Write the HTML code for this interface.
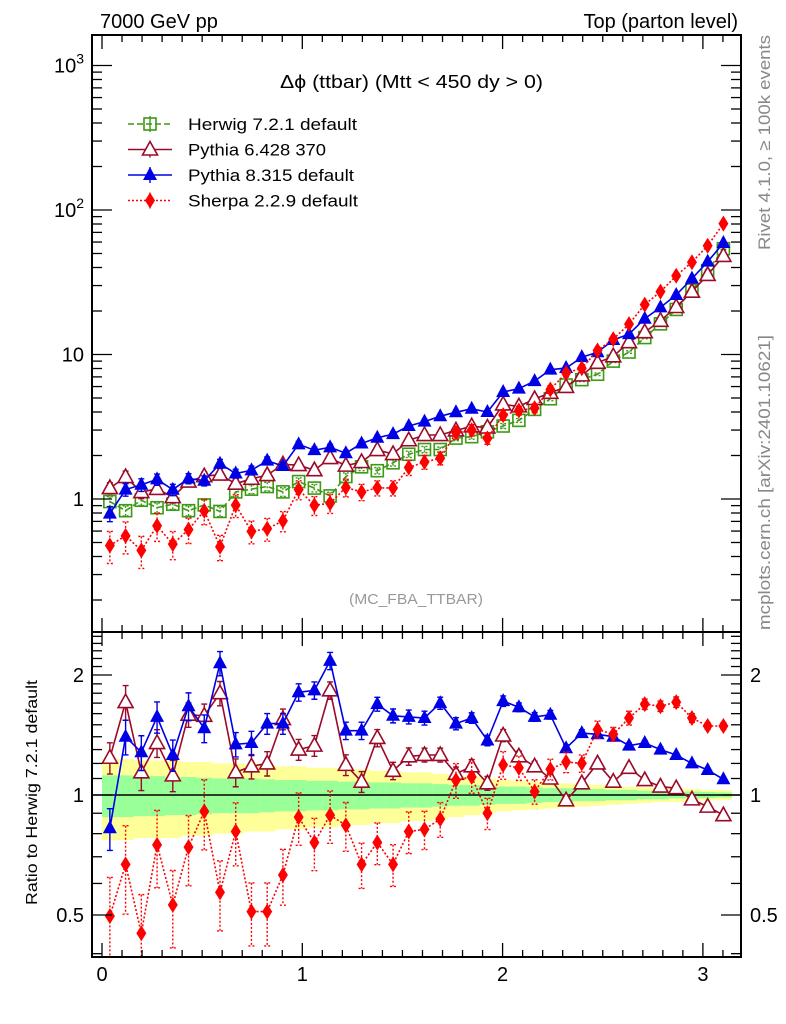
<!DOCTYPE html>
<html><head><meta charset="utf-8">
<style>
html,body{margin:0;padding:0;background:#fff;}
svg{display:block;font-family:"Liberation Sans",sans-serif;}
</style></head>
<body>
<svg id="chart" width="786" height="1024" viewBox="0 0 786 1024" xmlns="http://www.w3.org/2000/svg">
<text x="100" y="28" font-size="20">7000 GeV pp</text>
<text x="738" y="28" font-size="20" text-anchor="end">Top (parton level)</text>
<text x="280" y="88" font-size="18" textLength="263" lengthAdjust="spacingAndGlyphs">Δϕ (ttbar) (Mtt &lt; 450 dy &gt; 0)</text>
<text x="349" y="604" font-size="15" fill="#999" textLength="134" lengthAdjust="spacingAndGlyphs">(MC_FBA_TTBAR)</text>
<text transform="translate(770,250) rotate(-90)" font-size="17" fill="#888" textLength="215" lengthAdjust="spacingAndGlyphs">Rivet 4.1.0, ≥ 100k events</text>
<text transform="translate(770,630) rotate(-90)" font-size="17" fill="#888" textLength="295" lengthAdjust="spacingAndGlyphs">mcplots.cern.ch [arXiv:2401.10621]</text>
<text transform="translate(37,905) rotate(-90)" font-size="16" textLength="225" lengthAdjust="spacingAndGlyphs">Ratio to Herwig 7.2.1 default</text>
<g id="bands"></g>
<g id="marks"></g>
<g id="axes"></g>
<g id="legend"></g>
</svg>
<script>
const binCount = 40;
const herwig = [0.96,0.83,0.98,0.87,0.92,0.83,0.91,0.82,1.12,1.17,1.22,1.12,1.32,1.19,1.05,1.43,1.67,1.57,1.78,2.04,2.2,2.2,2.64,2.7,2.92,3.2,3.5,4.17,4.94,6.15,6.7,7.3,9.0,10.4,13.1,16.3,20.5,27.9,38,54];
const pythia6Ratio = [1.24,1.71,1.14,1.35,1.12,1.59,1.58,1.80,1.14,1.18,1.20,1.55,1.30,1.33,1.83,1.19,1.08,1.39,1.15,1.25,1.26,1.26,1.13,1.18,1.07,1.41,1.25,1.18,1.10,0.97,1.07,1.20,1.08,1.17,1.09,1.05,1.04,0.975,0.935,0.89];
const pythia8Ratio = [0.825,1.40,1.28,1.57,1.26,1.67,1.47,2.14,1.34,1.35,1.51,1.51,1.81,1.83,2.17,1.45,1.45,1.69,1.58,1.57,1.56,1.70,1.51,1.56,1.37,1.72,1.66,1.57,1.59,1.31,1.43,1.42,1.40,1.33,1.35,1.30,1.26,1.20,1.155,1.095];
const sherpaRatio = [0.497,0.67,0.45,0.75,0.53,0.74,0.91,0.57,0.81,0.51,0.51,0.63,0.88,0.76,0.89,0.84,0.67,0.76,0.67,0.81,0.82,0.87,1.09,1.11,0.90,1.19,1.17,1.02,1.16,1.21,1.20,1.46,1.42,1.56,1.69,1.67,1.71,1.56,1.49,1.49];
const herwigErr = [0.08,0.08,0.08,0.08,0.08,0.08,0.08,0.08,0.07,0.07,0.07,0.07,0.06,0.06,0.06,0.06,0.06,0.05,0.05,0.05,0.05,0.04,0.04,0.04,0.04,0.04,0.03,0.03,0.03,0.03,0.03,0.02,0.02,0.02,0.02,0.02,0.02,0.015,0.015,0.015];
const pythia6Err = [0.09,0.1,0.1,0.08,0.09,0.07,0.07,0.07,0.08,0.07,0.07,0.06,0.06,0.06,0.05,0.06,0.06,0.05,0.05,0.05,0.04,0.04,0.04,0.04,0.04,0.035,0.03,0.03,0.03,0.03,0.025,0.025,0.02,0.02,0.02,0.02,0.015,0.015,0.012,0.012];
const pythia8Err = [0.12,0.1,0.1,0.09,0.09,0.08,0.08,0.07,0.07,0.07,0.06,0.06,0.05,0.05,0.05,0.05,0.05,0.04,0.04,0.04,0.04,0.035,0.035,0.03,0.03,0.03,0.025,0.025,0.025,0.02,0.02,0.02,0.02,0.015,0.015,0.015,0.012,0.012,0.01,0.01];
const sherpaErr = [0.25,0.25,0.25,0.22,0.22,0.2,0.2,0.2,0.18,0.18,0.18,0.16,0.15,0.15,0.15,0.14,0.13,0.12,0.12,0.12,0.11,0.1,0.1,0.09,0.09,0.08,0.07,0.07,0.06,0.06,0.05,0.05,0.04,0.04,0.03,0.03,0.03,0.025,0.02,0.02];
const yellowBand = [0.23,0.23,0.22,0.22,0.22,0.21,0.21,0.2,0.2,0.19,0.19,0.18,0.18,0.17,0.17,0.16,0.16,0.15,0.15,0.14,0.14,0.13,0.12,0.11,0.1,0.09,0.085,0.08,0.075,0.07,0.065,0.06,0.055,0.05,0.045,0.04,0.04,0.035,0.03,0.03];
const greenBand = [0.12,0.12,0.115,0.115,0.11,0.11,0.105,0.1,0.1,0.1,0.095,0.09,0.09,0.085,0.085,0.08,0.08,0.075,0.075,0.07,0.07,0.065,0.06,0.06,0.055,0.05,0.05,0.045,0.04,0.04,0.035,0.035,0.03,0.03,0.025,0.025,0.02,0.02,0.018,0.015];
const xTickLabels = ["0","1","2","3"];
const topTickLabels = ["1","10","10²","10³"];
const ratioTickLabels = ["0.5","1","2"];

const NS = "http://www.w3.org/2000/svg";
const L = 92, R = 741, T = 35, M = 632, B = 957;
const xPx = x => 102 + x * 200.3;
const yTop = v => 499 - 144.5 * Math.log10(v);
const yRat = r => 795 - 398.7 * Math.log10(r);
const binW = Math.PI / binCount;
const binC = i => (i + 0.5) * binW;

function mk(tag, attrs, parent) {
  const e = document.createElementNS(NS, tag);
  for (const k in attrs) e.setAttribute(k, attrs[k]);
  parent.appendChild(e);
  return e;
}
const svg = document.getElementById('chart');
const defs = mk('defs', {}, svg);
const cp1 = mk('clipPath', {id: 'clipTop'}, defs);
mk('rect', {x: L, y: T, width: R - L, height: M - T}, cp1);
const cp2 = mk('clipPath', {id: 'clipBot'}, defs);
mk('rect', {x: L, y: M, width: R - L, height: B - M}, cp2);

const bands = document.getElementById('bands');
bands.setAttribute('clip-path', 'url(#clipBot)');
for (let i = 0; i < binCount; i++) {
  const x0 = xPx(i * binW), x1 = xPx((i + 1) * binW);
  const yb = mk('rect', {x: x0, y: yRat(1 + yellowBand[i]), width: x1 - x0 + 0.5, height: yRat(1 - yellowBand[i]) - yRat(1 + yellowBand[i]), fill: '#ffff99'}, bands);
  
  
  const gb = mk('rect', {x: x0, y: yRat(1 + greenBand[i]), width: x1 - x0 + 0.5, height: yRat(1 - greenBand[i]) - yRat(1 + greenBand[i]), fill: '#99ff99'}, bands);
  
  
}
const refLine = mk('line', {x1: L, x2: R, y1: yRat(1), y2: yRat(1), stroke: '#000', 'stroke-width': 1.5}, bands);



function marker(g, type, cx, cy, color) {
  let e;
  if (type === 'square') e = mk('rect', {x: cx - 6, y: cy - 6, width: 12, height: 12, fill: 'none', stroke: color, 'stroke-width': 1.6}, g);
  else if (type === 'otri') e = mk('polygon', {points: `${cx},${cy - 8} ${cx - 7.5},${cy + 5.5} ${cx + 7.5},${cy + 5.5}`, fill: '#fff', stroke: color, 'stroke-width': 1.6}, g);
  else if (type === 'ftri') e = mk('polygon', {points: `${cx},${cy - 8} ${cx - 7},${cy + 5} ${cx + 7},${cy + 5}`, fill: color}, g);
  else e = mk('polygon', {points: `${cx},${cy - 8} ${cx - 5},${cy} ${cx},${cy + 8} ${cx + 5},${cy}`, fill: color}, g);
  return e;
}

const series = [
  {name: 'herwig', vals: herwig.map(v => v), ratio: null, err: herwigErr, color: '#3c9a14', type: 'square', dash: '6,3', label: 'Herwig 7.2.1 default', tl: 169},
  {name: 'pythia6', vals: herwig.map((h, i) => h * pythia6Ratio[i]), ratio: pythia6Ratio, err: pythia6Err, color: '#9b0a28', type: 'otri', dash: '', label: 'Pythia 6.428 370', tl: 138},
  {name: 'pythia8', vals: herwig.map((h, i) => h * pythia8Ratio[i]), ratio: pythia8Ratio, err: pythia8Err, color: '#0000e6', type: 'ftri', dash: '', label: 'Pythia 8.315 default', tl: 166},
  {name: 'sherpa', vals: herwig.map((h, i) => h * sherpaRatio[i]), ratio: sherpaRatio, err: sherpaErr, color: '#ff0000', type: 'diam', dash: '2,2', label: 'Sherpa 2.2.9 default', tl: 170}
];

const marks = document.getElementById('marks');
function drawSeries(s, vals, yf, clip, panel) {
  const g = mk('g', {'clip-path': clip}, marks);
  
  
  const pts = vals.map((v, i) => `${xPx(binC(i)).toFixed(1)},${yf(v).toFixed(1)}`).join(' ');
  const ln = mk('polyline', {points: pts, fill: 'none', stroke: s.color, 'stroke-width': 1.6}, g);
  if (s.dash) ln.setAttribute('stroke-dasharray', s.dash);
  
  
  vals.forEach((v, i) => {
    const cx = xPx(binC(i));
    const e = s.err[i];
    const y1 = yf(v * (1 + e)), y2 = yf(v * Math.max(0.05, 1 - e));
    const eb = mk('path', {d: `M${cx},${y1}V${y2}M${cx - 3},${y1}h6M${cx - 3},${y2}h6`, stroke: s.color, 'stroke-width': 1.4, fill: 'none'}, g);
    if (s.dash) eb.setAttribute('stroke-dasharray', '2,2');
    
    
    const m = marker(g, s.type, cx, yf(v), s.color);
    
    
  });
}
series.forEach(s => drawSeries(s, s.vals, yTop, 'url(#clipTop)', 'top'));
series.forEach(s => { if (s.ratio) drawSeries(s, s.ratio, yRat, 'url(#clipBot)', 'ratio'); });

const axes = document.getElementById('axes');
function line(x1, y1, x2, y2, name, w) {
  const e = mk('line', {x1, y1, x2, y2, stroke: '#000', 'stroke-width': w || 1.3}, axes);
  
  
  return e;
}
function text(x, y, s, anchor, name, size) {
  const e = mk('text', {x, y, 'font-size': size || 20, 'text-anchor': anchor}, axes);
  e.textContent = s;
  
  
  return e;
}
const fr1 = mk('rect', {x: L, y: T, width: R - L, height: M - T, fill: 'none', stroke: '#000', 'stroke-width': 2}, axes);


const fr2 = mk('rect', {x: L, y: M, width: R - L, height: B - M, fill: 'none', stroke: '#000', 'stroke-width': 2}, axes);



for (let k = 0; k <= 31; k++) {
  const x = xPx(k / 10);
  if (x > R) break;
  const big = k % 10 === 0;
  const len = big ? 14 : 7;
  [[T, 1], [M, -1], [M, 1], [B, -1]].forEach(([y, d]) => line(x, y, x, y + d * len, 'x-tick'));
}
xTickLabels.forEach((s, i) => text(xPx(i), 981, s, 'middle', 'x-tick-label'));

for (let d = -1; d <= 3; d++) {
  for (let m = 1; m <= 9; m++) {
    const y = yTop(m * Math.pow(10, d));
    if (y < T || y > M) continue;
    const len = m === 1 ? 20 : 10;
    line(L, y, L + len, y, 'y-tick');
    line(R, y, R - len, y, 'y-tick');
  }
}
topTickLabels.forEach((s, i) => {
  const y = yTop(Math.pow(10, i)) + 7;
  if (i >= 2) {
    const t = text(84, y, '', 'end', 'y-tick-label');
    t.innerHTML = '10<tspan dy="-9" font-size="14">' + i + '</tspan>';
  } else text(84, y, s, 'end', 'y-tick-label');
});

for (let k = 4; k <= 25; k++) {
  const r = k / 10;
  const y = yRat(r);
  if (y < M || y > B) continue;
  const big = (k === 5 || k === 10 || k === 20);
  const len = big ? 20 : 10;
  line(L, y, L + len, y, 'ratio-y-tick');
  line(R, y, R - len, y, 'ratio-y-tick');
}
[0.5, 1, 2].forEach((r, i) => {
  text(84, yRat(r) + 7, ratioTickLabels[i], 'end', 'ratio-y-tick-label');
  text(750, yRat(r) + 7, ratioTickLabels[i], 'start', 'ratio-y-tick-label-right');
});

const lg = document.getElementById('legend');
series.forEach((s, i) => {
  const y = 124 + i * 25.5;
  const g = mk('g', {}, lg);
  
  
  const l = mk('line', {x1: 128, x2: 172, y1: y, y2: y, stroke: s.color, 'stroke-width': 1.6}, g);
  if (s.dash) l.setAttribute('stroke-dasharray', s.dash);
  mk('line', {x1: 150, x2: 150, y1: y - 8, y2: y + 8, stroke: s.color, 'stroke-width': 1.4}, g);
  marker(g, s.type, 150, y, s.color);
  const t = mk('text', {x: 188, y: y + 6, 'font-size': 17, textLength: s.tl, lengthAdjust: 'spacingAndGlyphs'}, g);
  t.textContent = s.label;
});
</script>
</body></html>
